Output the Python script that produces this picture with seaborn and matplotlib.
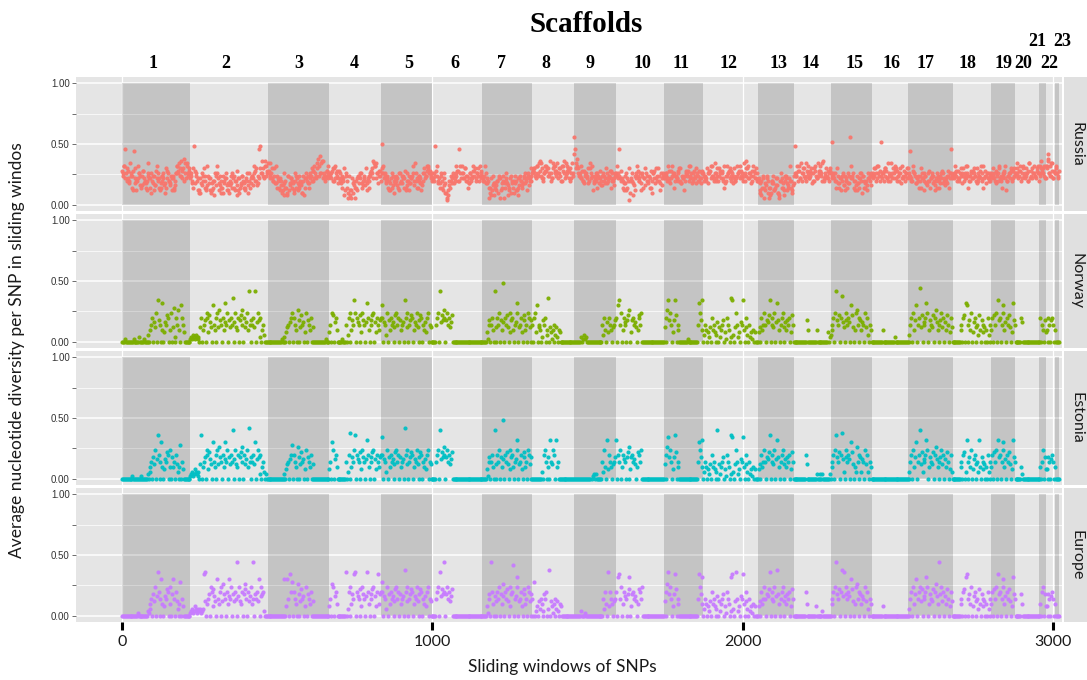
import numpy as np
import pandas as pd
import matplotlib.pyplot as plt
import matplotlib.transforms as mtransforms
import seaborn as sns

plt.rcParams['font.family'] = ['Lato', 'DejaVu Sans']

# scaffold boundaries along the sliding-window axis
SCAFFOLD_EDGES = [0, 219, 471, 667, 835, 999, 1160, 1321, 1455, 1591, 1747, 1872,
                  2050, 2166, 2285, 2417, 2533, 2678, 2800, 2878, 2955, 2978, 3007, 3020]
SCAFFOLD_NAMES = [str(i) for i in range(1, 24)]
SCAFFOLD_LABEL_X = [99, 335, 570, 748, 925, 1073, 1223, 1366, 1508, 1676, 1801, 1953,
                    2117, 2219, 2359, 2481, 2588, 2723, 2839, 2904, 2949, 2987, 3031]
UPPER_ROW = ['21', '23']

POPULATIONS = ['Russia', 'Norway', 'Estonia', 'Europe']
COLOURS = ['#F8766D', '#7CAE00', '#00BFC4', '#C77CFF']

# one character per sampled window, value = position in LEVELS * 0.02
LEVELS = 'abcdefghijklmnopqrstuvwxyzABCD'

RUSSIA = [
    "omqxnplkrnmowjlgkqnmhiolkjgnmlhfkjmiolnhgjkmlifhlnkjmglhkinqnrmsoptnlrmpn",
    "lnjpyomkgfljnmphkgimlgfjhknmqlgifkhmjlnigfkjhlmgkoilfhjmkhglnikhjmlqnkpimxynsplqmnr",
    "omrnlkpjqmkhlifgnjkhemgilhjfkmlghikjfmelnkjhlmpkoqnlrtmunslnkmolq",
    "mnlopkqnmlokjmhlpgnkdmeglfidhkgmjlnhkmipjlkhmonsrqlnjomk",
    "znqlnjmhkglnifkjmlhgnkjmlohinkgjlmqkrnlhkmjgiknlmqpnomk",
    "nlkyomjlhmkgnijfcgkhmlnjkqmokxnlqnlpkmhjlnkmqoplnmkqon",
    "mlkqnjkdhlgmjehikfmlgjkdhlnjiglmkhfjkgleimkhjlnkgmilpk",
    "nopmlqnrompklnqopmnsklpqnomrlnpkqoslmnqpoklrn",
    "Cxrtpmnqlokjmnlpkrnmgjlknhmjlkinmlpjkmohlnkim",
    "mqnxlolkgmjnhkcflkjimnqolkngmhlpnkjmlhfknojlmpkgniml",
    "lmnkqojlmnhkmlonpkjmlgknmoqlmnjkolpnmkljno",
    "nkmlpjnolqmkrlnmkpolnkhjmqnolkmnjpklmnoqmlkrnsmpqlnjkmolpnk",
    "ljfkhmdgilkhefjkmghlifdknlhgekmjhlqkgim",
    "ynmqkolrnpmlkonqlmpjnkomlrnqomkslnpmlkon",
    "mAnlkhpmjlgknimlkhjmCqlnkgimjhlnkfmhjkgnlkim",
    "nlmpkqnmoAlnkpmolrnkmlpnqlokmnpjlmoknlp",
    "mnwlkqnmjlkhmpnlkgmjinkhlmjkglnmkhjlonkiljmhnxlm",
    "lnqmkolnmjpknlmqhkmnlopmkjlnmoqkhlmjnlkmn",
    "mnplkjmnqlkhmnolgkmnlpkomn",
    "nprlmoknqmlpnkorlmpnqmlonk",
    "nqsnpmlq",
    "ptvnqmrlon",
    "qnlo",
]

# the remaining Russian windows that sit between the ones above
RUSSIA_B = [
    "nqlkojmhgpklnimojhkrlnmgiqklhmnjpokilmgnqopmlkrqno",
    "mkhjnlgfikmhqjlgkeinjmhfklgjimnhkeglimjhkfnlmiokjlpnmsqo",
    "nlpkmjhlgkiehfmjlkgnhjmifkhlmjnkolmpqnrsmlon",
    "mnkplojnlkemhfgdjkhlmnjilkgmnplqrnmo",
    "pnmklgjhmlkinjmlhgkmjlnikhmljnpmoqnl",
    "lnmqkjnhlfdeikjmlnokqnlpmkjnlomknpml",
    "kmjlhfeijgkldhmjkehfjkmghlkimjlnkm",
    "opnqmsrlnoqpmnlrqonpmkqnrolpnm",
    "vpqnmlkonmjplqkmnloimkjnlmokln",
    "nlmkhjglpkneglmkjnlimkhonlpkmjln",
    "mnlkoqnmlkpjlmonkqlnmjkoln",
    "mlknoqmlnkpmnolqkmnpolmkqnlonmkplnmoqnlk",
    "kgelhjmfdhkjgilfekhjmlgikhfj",
    "nmoqlknprmlonkpqlmonrkmlonp",
    "lmnkjhlmigknjlmhkgjlnmkhilmn",
    "mpnlqkmnoplkmrnlopmknqlmnp",
    "lmkonjlmkhlnmjkolnmikhlmnjlkmolnm",
    "mnolkpnmlqnmkolnmpkmlnqomnlk",
    "lmnokpmlnqkmnolp",
    "mnoqlpnmkrolnmpq",
    "mponql",
    "qsnmroln",
    "pm",
]

NORWAY = [
    "aaabaaaaaaaabaaaaacaaaabaaaadafhkaigmarjhaqfaeihlkafmagocakhnfapkheaaaaaa",
    "bcbdcbdcbcagkafhjamkeligaphfkamgnjhakfiqhmajgkhsaimgfkajlnhakgimfvhajhkgvaimjkcafhdaaaa",
    "aaaaaaaaaaaaaabaacaeghaikmakhfanjaglhiaemajhfkagaaaaaaaaaaaaabaaa",
    "ehamlaikfaaaaabaaahadkmafjhrmakihlaemjhaiqkfajhlmaiekhfjk",
    "pkaihdmajfkhiaglmhkajfhiarkmgahjlkafihmgajlkahfiekmahga",
    "aaaahkmaviljnkajmhkgilaaaaaaaaaaaaaaaaaaaaaaaaaaaaaaaa",
    "aaaaaebjhahkfavagkhmajfiyakhlgaemjkfahiqmaghkeajlfhamkgaj",
    "hakmepaghfacjhkadfsagebfhadgcafeaaaaaaaaaaaaaaa",
    "aaaaaaacabdbcaaaaaaaaaaaaaaaahdkfaiekhfaghj",
    "kaprhmafkihajlnaejkhigaflkhmaaaaaaaaaaaaaaaaaaaaaaaa",
    "gaknrjmhaejrlafhaaaaaaaaabaaaaaaaaaahqmjrf",
    "adhfaecgakfheadiagcfhjaebkhfacsrdagmhceaihrfakgdahcebfaeaaa",
    "egakfhmhajilrakhgmaiqjfahkmgaifjhkaelha",
    "aaaaaaaaaaaaajfaaaaaaaaafaaaaaaaaaaaeacd",
    "fhkamvjhlaktigamjhkiaplgafmnhkajfihamgkdahfa",
    "aaaaaaaaaaafaaaaaaaaaaaacaaaaaaaaaaaaaa",
    "adhkamfjpahkwglaihkqmafjhglaknifahjmgkaiflhaekga",
    "aaaaaaaahfaklaqpahjfmaeikgahdlfajhegafakdha",
    "fkalhmarjkahpmfiakhlgaeqjh",
    "aaaaaakiaaaaaaaaaaaaaaaaaa",
    "akahfaje",
    "fakhajkhaf",
    "aaaa",
]

ESTONIA = [
    "aaaaaaaaaaabaaaaaaaaabaaaaaacafdhajgmaiskhapfaeihlkafmajfhakgdafoaheaaaaaaa",
    "bcdbcedcbdagsafhjamkeligaphfkamgnjhakfiphmajgkhuaimgfkajlnhakgimfvhajhkgpaimjkcafhdacaa",
    "aaaaaaaaaaaaaaaaacaeghaikoakhfanjaglhiaemajhfkagaaaaaaaaaaaaaaaaa",
    "ehapmaikfaaaaaaaaahadktafjhmsakihlaemjhaiqkfajhlmaiekhfjk",
    "rkaihdmajfkhiaglmhkajfhiavkmgahjlkafihmgajlkahfiekmahga",
    "aaaahkmauiljnkajmhkgilaaaaaaaaaaaaaaaaaaaaaaaaaaaaaaaa",
    "aaaaaebjhahkfauagkhmajfiyakhlgaemjkfahiqmaghkeajlfhamkgaj",
    "aaaaaaaaaadakmhajfaqhgmkaqfhaaaaaaaaaaaaaaaa",
    "aaaaaaaaaaaaaaaaaabcacaaaaahdmfaqekhfaghj",
    "qakhmafkihajlnaejkhigaflkhmaaaaaaaaaaaaaaaaaaaaaaaa",
    "gaknrjmhaejslafhaaaaaaaaaaaaaaaaaaaahpmjqf",
    "adhfaecgakfheaduagcfhjaebkhfacsrdagmhceaihrfakgdahcebfaeaaa",
    "egakfhmhajilsakhgmaiqjfahkmgaifjhkaelha",
    "aaaaaaaaaaaakgaaaaaaaaaacaaacacaaaaaaaca",
    "fhkamsjhlaktidamjhkiaplgafdnhkajdihamgkdahfa",
    "aaaaaaaaaaaaaaaaaaaaaaaaaaaaaaaaaaaaaaa",
    "adhkamfjpahkugldihkqmafjhglaknifahjmgkaiflhaekda",
    "aaaaaaaahfakladqahjfmaeikgahdqfajhegafakdha",
    "fkalhmaqjkahpmfiakhlgaeqjh",
    "aaaaaafcaaaaaaaaaaaaaaaaaa",
    "afahmaje",
    "eajhaikhaf",
    "aaaa",
]

EUROPE = [
    "aaaaaaaaaaaaaaaaabaaaaaaaaaacbfdhajgmaiskhapfaeihlkafmajphakgdafoaheaaaaaaa",
    "bcdbcedcbdcdbcdrgsafhjamkeligaphfkamgnjhakfiphmajgkhwaimgfkajlnhakgimfwhajhkgpaimjkcaaaa",
    "aaaaaaaaaaaaaaaaapaepharkoakhfanjaglhiaemajhfkagaaaaaaaaaaaaaaaaa",
    "ehanmaikfaaaaaaaaasadkmafjhrsakihlaemjhaiskfajhlmaiekrfjk",
    "okaihdmajfkhiaglmhkajfhiatkmgahjlkafihmgajlkahfiekmahga",
    "aaaahkmasiljwkajmhkgilaaaaaaaaaaaaaaaaaaaaaaaaaaaaaaaa",
    "aaaaaebjhawkfaiagkhmajfinakhlgaemjkvahiqmaghkeajlfhamkgaj",
    "haoaceagdhfacjhkadtagebfhadgcafeaaaaaaaaaaaaa",
    "aaaaaaacaaabaaaaaaaaaaaaaaaaaahdkfasekhfagh",
    "kaqrhmafkihajlqaejkhigaflkhmaaaaaaaaaaaaaaaaaaaaaaa",
    "gaknsjmhaejrlafhaaaaaaaaaaaaaaaaaaaahrmjqf",
    "adhfaecgakfheadiagcfhjaebkhfacqrdagshceaihrfakgdahcebfaeaaa",
    "egakfhmhajilsakhgmaitjfahkmgaifjhkaelha",
    "aaaaaaaaaaaakfaaaaaaaaaeaaaaaacaaaaaaaaa",
    "fhkamwjhlaktisamjhkiaplgafmnhkajfihamgkdahfa",
    "aaaaaaaaaaaeaaaaaaaaaaaaaaaaaaaaaaaaaaa",
    "adhkamfjpahkmglaihkqmafjhglaknifawjmgkaiflhaekga",
    "aaaaaaaahfaklaqrahjfmaeikgahdlfajhegafakdha",
    "fkalhmarjkahpmfiakhlgaeqjh",
    "aaaaaajfaaaaaaaaaaaaaaaaaa",
    "afakmaje",
    "eajhaikhaf",
    "aaaa",
]

SERIES = {'Russia': [RUSSIA, RUSSIA_B], 'Norway': [NORWAY], 'Estonia': [ESTONIA],
          'Europe': [EUROPE]}


def decode(segments):
    windows, values = [], []
    for k, seg in enumerate(segments):
        lo, hi = SCAFFOLD_EDGES[k], SCAFFOLD_EDGES[k + 1]
        step = (hi - lo) / len(seg)
        for i, ch in enumerate(seg):
            windows.append(lo + (i + 0.5) * step)
            values.append(LEVELS.index(ch) * 0.02)
    return windows, values


rows = []
for pop in POPULATIONS:
    for part in SERIES[pop]:
        w, v = decode(part)
        rows.append(pd.DataFrame({'population': pop, 'window': w, 'pi': v}))
df = pd.concat(rows, ignore_index=True)

W, H = 1087, 680
fig = plt.figure(figsize=(W / 100, H / 100), dpi=100)

panel_tops = [77, 214, 351, 488]
panel_h = 134
left, right = 76, 1062

axes = []
for i, pop in enumerate(POPULATIONS):
    top = panel_tops[i]
    ax = fig.add_axes([left / W, 1 - (top + panel_h) / H, (right - left) / W, panel_h / H])
    ax.set_facecolor('#E5E5E5')
    ax.set_xlim(-148, 3029)
    ax.set_ylim(-0.05, 1.05)
    for s in ax.spines.values():
        s.set_visible(False)

    # grid
    for yv in [0, 0.5, 1.0]:
        ax.axhline(yv, color='white', lw=1.1, zorder=0.2)
    for yv in [0.25, 0.75]:
        ax.axhline(yv, color='white', lw=0.5, zorder=0.2)
    for xv in [0, 1000, 2000, 3000]:
        ax.axvline(xv, color='white', lw=0.9, zorder=0.2)

    # shaded odd scaffolds
    for k in range(0, len(SCAFFOLD_EDGES) - 1, 2):
        ax.fill_between([SCAFFOLD_EDGES[k], SCAFFOLD_EDGES[k + 1]], 0, 1,
                        color='black', alpha=0.14, lw=0, zorder=0.5)

    sub = df[df['population'] == pop]
    sns.scatterplot(data=sub, x='window', y='pi', color=COLOURS[i], s=9,
                    linewidth=0, alpha=0.95, ax=ax, zorder=2, legend=False)

    ax.set_xlabel('')
    ax.set_ylabel('')
    ax.set_yticks([0, 0.25, 0.5, 0.75, 1.0])
    ax.set_yticklabels(['0.00', '', '0.50', '', '1.00'], family='Liberation Sans',
                       fontsize=7, color='#333333')
    ax.tick_params(axis='y', length=3, width=0.6, color='#555555', pad=1.5)
    if i < 3:
        ax.set_xticks([])
    else:
        ax.set_xticks([0, 1000, 2000, 3000])
        ax.set_xticklabels(['0', '1000', '2000', '3000'], fontsize=11.5, color='#1A1A1A')
        ax.tick_params(axis='x', length=6, width=2.2, color='black', pad=3)

    # facet strip on the right
    sax = fig.add_axes([1064 / W, 1 - (top + panel_h) / H, 23 / W, panel_h / H])
    sax.set_facecolor('#E0E0E0')
    sax.set_xticks([])
    sax.set_yticks([])
    for s in sax.spines.values():
        s.set_visible(False)
    sax.text(0.55, 0.5, pop, rotation=270, ha='center', va='center',
             fontsize=11.5, color='#1A1A1A', transform=sax.transAxes)
    axes.append(ax)

# scaffold numbers above the top panel
trans = mtransforms.blended_transform_factory(axes[0].transData, fig.transFigure)
for name, xl in zip(SCAFFOLD_NAMES, SCAFFOLD_LABEL_X):
    yl = 1 - 42 / H if name in UPPER_ROW else 1 - 64 / H
    axes[0].text(xl, yl, name, transform=trans, ha='center', va='center',
                 family='Liberation Serif', fontweight='bold', fontsize=13, clip_on=False)

fig.text(586 / W, 1 - 24 / H, 'Scaffolds', ha='center', va='center',
         family='Liberation Serif', fontweight='bold', fontsize=21)
fig.text(17 / W, 1 - 350 / H, 'Average nucleotide diversity per SNP in sliding windos',
         rotation=90, ha='center', va='center', fontsize=12.5, color='#1A1A1A')
fig.text(562 / W, 1 - 667 / H, 'Sliding windows of SNPs', ha='center', va='center',
         fontsize=12.5, color='#1A1A1A')

fig.savefig('out.png', dpi=100)
